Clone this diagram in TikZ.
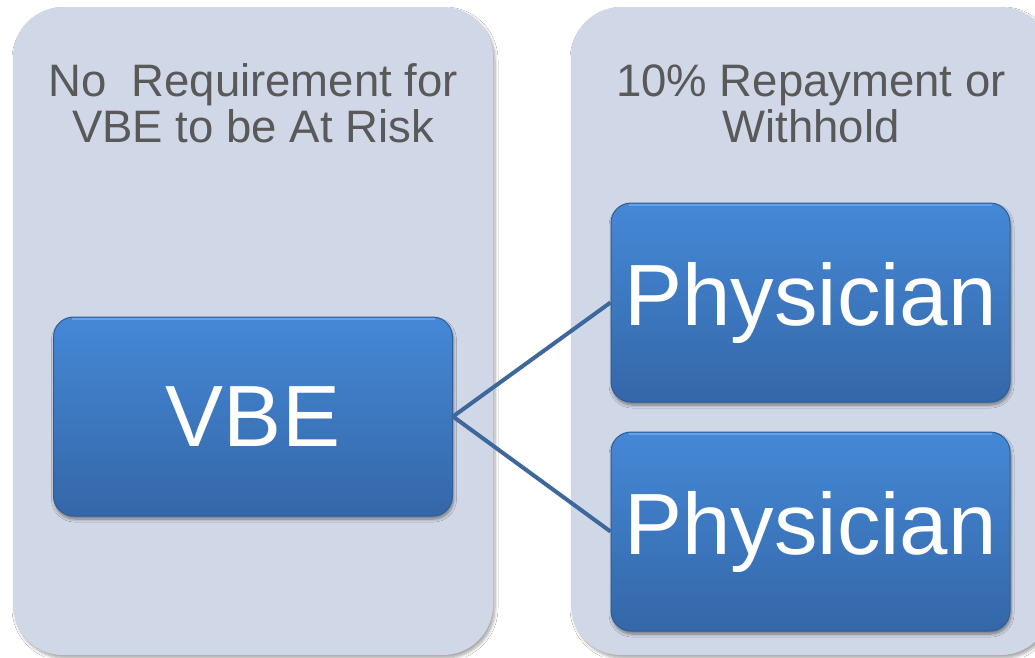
\documentclass[tikz,border=0pt]{standalone}
\usepackage{fontspec}
\setmainfont{Liberation Sans}
\usetikzlibrary{shadows.blur}

\definecolor{panelfill}{HTML}{D0D7E6}
\definecolor{titlegray}{HTML}{595959}
\definecolor{boxtop}{HTML}{4588D6}
\definecolor{boxmid}{HTML}{3F7DC8}
\definecolor{boxbottom}{HTML}{3467A8}
\definecolor{boxedge}{HTML}{2F5E98}
\definecolor{boxshine}{HTML}{72AEF2}
\definecolor{linkblue}{HTML}{3E679B}

\tikzset{
  panel/.style={fill=panelfill, rounded corners=50pt, minimum width=480pt,
    minimum height=648pt, inner sep=0pt,
    blur shadow={shadow xshift=2pt, shadow yshift=-3pt, shadow blur steps=6,
      shadow opacity=35, shadow blur radius=3pt}},
  paneltitle/.style={text=titlegray, align=center, inner sep=0pt,
    font=\fontsize{45.5}{46}\selectfont},
  bluebox/.style={rounded corners=20pt, minimum width=399pt, minimum height=199pt,
    top color=boxtop, middle color=boxmid, bottom color=boxbottom,
    draw=boxedge, line width=1pt,
    text=white, inner sep=0pt, font=\fontsize{87}{87}\selectfont,
    blur shadow={shadow xshift=1pt, shadow yshift=-3pt, shadow blur steps=6,
      shadow opacity=45, shadow blur radius=3pt},
    path picture={\draw[boxshine, line width=2pt, opacity=0.7]
      ([xshift=18pt,yshift=-2pt]path picture bounding box.north west) --
      ([xshift=-18pt,yshift=-2pt]path picture bounding box.north east);}},
  link/.style={draw=linkblue, line width=4pt}
}

\begin{document}
\begin{tikzpicture}[x=1pt, y=-1pt]
  \useasboundingbox (0,0) rectangle (1035,657);
  \clip (0,0) rectangle (1035,657);
  \fill[white] (0,0) rectangle (1035,657);

  % two background columns
  \node[panel] (leftpanel) at (253,331) {};
  \node[panel] (rightpanel) at (811,331) {};

  % column headings
  \node[paneltitle] (lefttitle) at (253,103) {No\ \ Requirement for\\VBE to be At Risk};
  \node[paneltitle] (righttitle) at (811,103.5) {10\% Repayment or\\Withhold};

  % entity boxes
  \node[bluebox] (vbe) at (253,416.5) {VBE};
  \node[bluebox] (phys1) at (810.5,302.5) {Physician};
  \node[bluebox] (phys2) at (810.5,531.5) {Physician};

  % connectors
  \draw[link] (vbe.east) -- (phys1.west);
  \draw[link] (vbe.east) -- (phys2.west);
\end{tikzpicture}
\end{document}
